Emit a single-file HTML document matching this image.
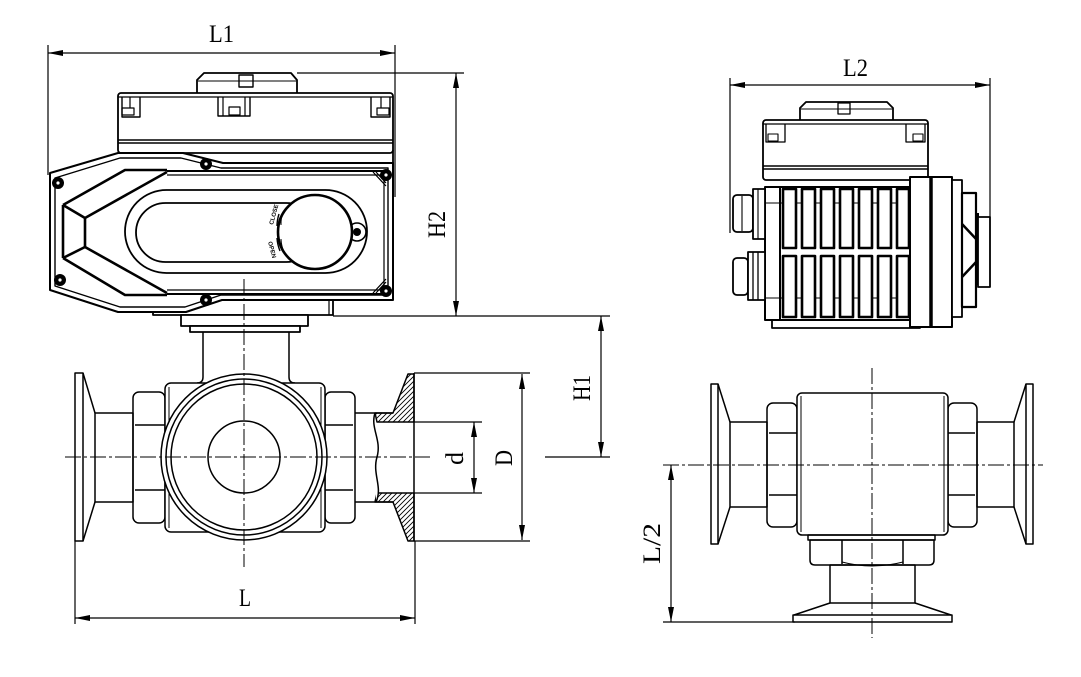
<!DOCTYPE html>
<html><head><meta charset="utf-8">
<style>html,body{margin:0;padding:0;background:#fff}svg{display:block}</style>
</head>
<body>
<svg width="1081" height="677" viewBox="0 0 1081 677" xmlns="http://www.w3.org/2000/svg">
<defs>
<pattern id="h" patternUnits="userSpaceOnUse" width="5" height="5"><path d="M-1,6 L6,-1 M-1,1 L1,-1 M4,6 L6,4" stroke="#000" stroke-width="0.9"/></pattern>
</defs>
<rect width="1081" height="677" fill="#fff"/>

<!-- ============ DIMENSIONS ============ -->
<g fill="none" stroke="#000" stroke-width="1.2">
  <!-- L1 -->
  <line x1="48" y1="53" x2="395" y2="53"/>
  <line x1="48" y1="45" x2="48" y2="175"/>
  <line x1="395" y1="45" x2="395" y2="197"/>
  <!-- H2 -->
  <line x1="456" y1="73" x2="456" y2="316"/>
  <line x1="297" y1="73" x2="464" y2="73"/>
  <line x1="333" y1="316" x2="610" y2="316"/>
  <!-- H1 -->
  <line x1="601" y1="316" x2="601" y2="457"/>
  <line x1="545" y1="457" x2="610" y2="457"/>
  <!-- D -->
  <line x1="522" y1="374" x2="522" y2="540"/>
  <line x1="414" y1="373" x2="530" y2="373"/>
  <line x1="414" y1="541" x2="530" y2="541"/>
  <!-- d -->
  <line x1="474" y1="422" x2="474" y2="493"/>
  <line x1="414" y1="422" x2="482" y2="422"/>
  <line x1="414" y1="493" x2="482" y2="493"/>
  <!-- L -->
  <line x1="75" y1="618" x2="415" y2="618"/>
  <line x1="75" y1="541" x2="75" y2="624"/>
  <line x1="415" y1="541" x2="415" y2="624"/>
  <!-- L2 -->
  <line x1="730" y1="85" x2="990" y2="85"/>
  <line x1="730" y1="78" x2="730" y2="233"/>
  <line x1="990" y1="78" x2="990" y2="217"/>
  <!-- L/2 -->
  <line x1="671" y1="465" x2="671" y2="622"/>
  <line x1="663" y1="622" x2="795" y2="622"/>
</g>
<g fill="#000" stroke="none">
  <polygon points="48,53 63,50 63,56"/><polygon points="395,53 380,50 380,56"/>
  <polygon points="456,73 453,88 459,88"/><polygon points="456,316 453,301 459,301"/>
  <polygon points="601,316 598,331 604,331"/><polygon points="601,457 598,442 604,442"/>
  <polygon points="522,374 519,389 525,389"/><polygon points="522,540 519,525 525,525"/>
  <polygon points="474,422 471,437 477,437"/><polygon points="474,493 471,478 477,478"/>
  <polygon points="75,618 90,615 90,621"/><polygon points="415,618 400,615 400,621"/>
  <polygon points="730,85 745,82 745,88"/><polygon points="990,85 975,82 975,88"/>
  <polygon points="671,465 668,480 674,480"/><polygon points="671,622 668,607 674,607"/>
</g>
<g font-family="'Liberation Serif', serif" font-size="25" fill="#000">
  <text x="209" y="42" textLength="25" lengthAdjust="spacingAndGlyphs">L1</text>
  <text x="239" y="606" textLength="12" lengthAdjust="spacingAndGlyphs">L</text>
  <text x="843" y="76" textLength="25" lengthAdjust="spacingAndGlyphs">L2</text>
  <text transform="translate(445,238) rotate(-90)" textLength="27" lengthAdjust="spacingAndGlyphs">H2</text>
  <text transform="translate(590,401) rotate(-90)" textLength="26" lengthAdjust="spacingAndGlyphs">H1</text>
  <text transform="translate(463,465) rotate(-90)" textLength="13" lengthAdjust="spacingAndGlyphs">d</text>
  <text transform="translate(512,466) rotate(-90)" textLength="16" lengthAdjust="spacingAndGlyphs">D</text>
  <text transform="translate(660,564) rotate(-90)" textLength="41" lengthAdjust="spacingAndGlyphs">L/2</text>
</g>

<!-- ============ LEFT VIEW ACTUATOR ============ -->
<g fill="none" stroke="#000" stroke-width="1.8" stroke-linejoin="round">
  <!-- knob -->
  <path d="M197,93 L197,80 L204,73 L291,73 L297,80 L297,93" fill="#fff"/>
  <line x1="198" y1="81" x2="296" y2="81" stroke-width="1"/>
  <rect x="239" y="75" width="14" height="12" stroke-width="1.4"/>
  <!-- cover -->
  <rect x="118" y="93" width="275" height="60" rx="3" fill="#fff"/>
  <line x1="118" y1="97" x2="393" y2="97" stroke-width="1.2"/>
  <line x1="118" y1="140" x2="393" y2="140" stroke-width="1.4"/>
  <line x1="118" y1="143" x2="393" y2="143" stroke-width="1.4"/>
  <line x1="393" y1="150" x2="393" y2="197"/>
  <!-- clips -->
  <path d="M122,97 L122,117 L140,117 L140,97" stroke-width="1.4"/>
  <line x1="130" y1="97" x2="130" y2="108" stroke-width="1.2"/>
  <rect x="122" y="108" width="12" height="7" stroke-width="1.2"/>
  <path d="M218,97 L218,116 L250,116 L250,97" stroke-width="1.4"/>
  <line x1="223" y1="97" x2="223" y2="116" stroke-width="1.2"/>
  <line x1="245" y1="97" x2="245" y2="116" stroke-width="1.2"/>
  <rect x="229" y="107" width="11" height="8" stroke-width="1.2"/>
  <path d="M371,97 L371,117 L390,117 L390,97" stroke-width="1.4"/>
  <line x1="381" y1="97" x2="381" y2="108" stroke-width="1.2"/>
  <rect x="377" y="108" width="12" height="7" stroke-width="1.2"/>
  <!-- bottom plate -->
  <rect x="153" y="300" width="180" height="15" fill="#fff"/>
  <line x1="329" y1="300" x2="329" y2="315" stroke-width="1.2"/>
  <rect x="181" y="315" width="127" height="11" fill="#fff"/>
  <rect x="190" y="326" width="110" height="6" fill="#fff"/>
  <!-- housing -->
  <path d="M50,173 L118,153 L183,153 L223,163 L393,163 L393,300 L222,300 L186,312 L118,312 L50,290 Z" fill="#fff" stroke-width="2"/>
  <path d="M55,178 L120,158 L181,158 L221,168 L388,168 L388,295 L221,295 L185,307 L120,307 L55,286 Z" stroke-width="1.4"/>
  <!-- panel -->
  <line x1="167" y1="171" x2="386" y2="171" stroke-width="2"/>
  <line x1="167" y1="175" x2="384" y2="175" stroke-width="1.2"/>
  <line x1="167" y1="290" x2="384" y2="290" stroke-width="1.2"/>
  <line x1="167" y1="294" x2="386" y2="294" stroke-width="2"/>
  <line x1="384" y1="175" x2="384" y2="290" stroke-width="1.2"/>
  <path d="M373,172 L386,186 M376,172 L386,183 M373,293 L386,279 M376,293 L386,282" stroke-width="1.2"/>
  <!-- chevron -->
  <g stroke-width="2.6">
    <path d="M63,205 L125,170 L167,170"/>
    <path d="M63,205 L85,218 L167,172"/>
    <path d="M85,218 L85,247"/>
    <path d="M63,205 L63,258"/>
    <path d="M63,258 L85,247"/>
    <path d="M85,247 L167,293"/>
    <path d="M63,258 L125,295 L167,295"/>
  </g>
  <!-- oval -->
  <rect x="125" y="190" width="242" height="83" rx="41.5" stroke-width="1.8"/>
  <rect x="136" y="203" width="180" height="59" rx="29.5" stroke-width="1.8"/>
  <!-- lug -->
  <circle cx="357" cy="232" r="9" fill="#fff" stroke-width="1.6"/>
  <circle cx="357" cy="232" r="4" fill="#000" stroke="none"/>
  <!-- dial -->
  <circle cx="315" cy="232" r="37" fill="#fff" stroke-width="2.6"/>
  <path d="M279,214 A40,40 0 0 0 277,226" stroke-width="1.4"/>
  <path d="M277,238 A40,40 0 0 0 280,251" stroke-width="1.4"/>
  <path d="M283,212 A36,36 0 0 0 281,225" stroke-width="1"/>
  <path d="M281,239 A36,36 0 0 0 284,252" stroke-width="1"/>
</g>
<g font-family="'Liberation Sans', sans-serif" font-size="6" font-weight="bold" fill="#000">
  <text transform="translate(273,225) rotate(-75)">CLOSE</text>
  <text transform="translate(268,242) rotate(75)">OPEN</text>
</g>
<!-- screws -->
<g fill="#000">
  <circle cx="58" cy="183" r="6"/><circle cx="60" cy="280" r="6"/>
  <circle cx="206" cy="164" r="6"/><circle cx="206" cy="300" r="6"/>
  <circle cx="386" cy="175" r="6"/><circle cx="386" cy="291" r="6"/>
</g>
<g fill="#fff">
  <circle cx="58" cy="183" r="1.6"/><circle cx="60" cy="280" r="1.6"/>
  <circle cx="206" cy="164" r="1.6"/><circle cx="206" cy="300" r="1.6"/>
  <circle cx="386" cy="175" r="1.6"/><circle cx="386" cy="291" r="1.6"/>
</g>

<!-- ============ LEFT VIEW VALVE BODY ============ -->
<g fill="none" stroke="#000" stroke-width="1.5" stroke-linejoin="round">
  <!-- neck -->
  <path d="M203,332 L203,377 Q203,383 197,383"/>
  <path d="M289,332 L289,377 Q289,383 295,383"/>
  <!-- left flange -->
  <rect x="75" y="373" width="8" height="168"/>
  <line x1="83" y1="373" x2="95" y2="413"/>
  <line x1="83" y1="541" x2="95" y2="502"/>
  <rect x="95" y="413" width="38" height="89"/>
  <!-- hex nuts -->
  <rect x="133" y="392" width="32" height="131" rx="6"/>
  <line x1="135" y1="425" x2="165" y2="425"/>
  <line x1="135" y1="490" x2="165" y2="490"/>
  <rect x="325" y="392" width="30" height="131" rx="6"/>
  <line x1="325" y1="425" x2="353" y2="425"/>
  <line x1="325" y1="490" x2="353" y2="490"/>
  <!-- body -->
  <rect x="165" y="383" width="160" height="149" rx="6" fill="#fff"/>
  <line x1="169" y1="387" x2="169" y2="528" stroke-width="1"/>
  <line x1="321" y1="387" x2="321" y2="528" stroke-width="1"/>
  <circle cx="244" cy="457" r="83" fill="#fff"/>
  <circle cx="244" cy="457" r="78"/>
  <circle cx="244" cy="457" r="73"/>
  <circle cx="244" cy="457" r="36"/>
  <!-- right pipe & section -->
  <line x1="355" y1="413" x2="393" y2="413"/>
  <line x1="355" y1="502" x2="393" y2="502"/>
  <path d="M375,413 L393,413 L408,374 L414,374 L414,422 L377,422 Z" fill="url(#h)"/>
  <path d="M377,493 L414,493 L414,541 L408,541 L393,502 L375,502 Z" fill="url(#h)"/>
  <path d="M375,413 C370,428 382,440 377,457 C372,474 383,487 376,502" fill="#fff"/>
  <line x1="414" y1="373" x2="414" y2="541"/>
</g>

<!-- ============ RIGHT TOP VIEW ============ -->
<g fill="none" stroke="#000" stroke-width="1.8" stroke-linejoin="round">
  <!-- knob -->
  <path d="M800,120 L800,108 L806,102 L887,102 L893,108 L893,120" fill="#fff"/>
  <line x1="801" y1="109" x2="892" y2="109" stroke-width="1"/>
  <rect x="838" y="103" width="12" height="11" stroke-width="1.3"/>
  <!-- cover -->
  <rect x="763" y="120" width="165" height="60" rx="3" fill="#fff"/>
  <line x1="763" y1="124" x2="928" y2="124" stroke-width="1.2"/>
  <line x1="763" y1="166" x2="928" y2="166" stroke-width="1.4"/>
  <line x1="763" y1="169" x2="928" y2="169" stroke-width="1.4"/>
  <path d="M766,124 L766,142 L785,142 L785,124" stroke-width="1.3"/>
  <rect x="768" y="134" width="10" height="7" stroke-width="1.1"/>
  <path d="M906,124 L906,142 L925,142 L925,124" stroke-width="1.3"/>
  <rect x="913" y="134" width="10" height="7" stroke-width="1.1"/>
  <!-- fin block -->
  <rect x="772" y="318" width="148" height="10" fill="#fff"/>
  <rect x="765" y="187" width="145" height="133" fill="#fff" stroke-width="2"/>
  <line x1="780" y1="187" x2="780" y2="320" stroke-width="2"/>
  <line x1="765" y1="203" x2="910" y2="203" stroke-width="1.1"/>
  <line x1="765" y1="298" x2="910" y2="298" stroke-width="1.1"/>
  <g stroke-width="2.6" fill="#fff">
    <rect x="783" y="189" width="13" height="59"/><rect x="802" y="189" width="13" height="59"/>
    <rect x="821" y="189" width="13" height="59"/><rect x="840" y="189" width="13" height="59"/>
    <rect x="859" y="189" width="13" height="59"/><rect x="878" y="189" width="13" height="59"/>
    <rect x="897" y="189" width="12" height="59"/>
    <rect x="783" y="256" width="13" height="61"/><rect x="802" y="256" width="13" height="61"/>
    <rect x="821" y="256" width="13" height="61"/><rect x="840" y="256" width="13" height="61"/>
    <rect x="859" y="256" width="13" height="61"/><rect x="878" y="256" width="13" height="61"/>
    <rect x="897" y="256" width="12" height="61"/>
  </g>
  <!-- end blocks -->
  <rect x="910" y="177" width="42" height="150" fill="#fff" stroke-width="2"/>
  <line x1="931" y1="177" x2="931" y2="327" stroke-width="3.5"/>
  <rect x="952" y="180" width="10" height="137" fill="#fff"/>
  <rect x="962" y="193" width="14" height="114" fill="#fff" stroke-width="2.2"/>
  <line x1="962" y1="224" x2="977" y2="240" stroke-width="2.5"/>
  <line x1="962" y1="277" x2="977" y2="261" stroke-width="2.5"/>
  <line x1="977" y1="213" x2="977" y2="285" stroke-width="4"/>
  <rect x="978" y="217" width="12" height="70" fill="#fff"/>
  <!-- glands -->
  <rect x="733" y="195" width="20" height="37" rx="4" fill="#fff"/>
  <line x1="742" y1="196" x2="742" y2="231" stroke-width="1.1"/>
  <rect x="753" y="189" width="12" height="50" fill="#fff"/>
  <line x1="758" y1="189" x2="758" y2="239" stroke-width="1.1"/>
  <rect x="733" y="258" width="15" height="37" rx="4" fill="#fff"/>
  <rect x="748" y="252" width="17" height="48" fill="#fff"/>
  <line x1="753" y1="252" x2="753" y2="300" stroke-width="1.3"/>
  <line x1="758" y1="252" x2="758" y2="300" stroke-width="1.3"/>
</g>

<!-- ============ RIGHT BOTTOM VIEW ============ -->
<g fill="none" stroke="#000" stroke-width="1.5" stroke-linejoin="round">
  <rect x="711" y="384" width="7" height="160"/>
  <line x1="718" y1="384" x2="730" y2="422"/>
  <line x1="718" y1="544" x2="730" y2="507"/>
  <rect x="730" y="422" width="37" height="85"/>
  <rect x="767" y="403" width="30" height="124" rx="6"/>
  <line x1="769" y1="433" x2="797" y2="433"/>
  <line x1="769" y1="495" x2="797" y2="495"/>
  <rect x="1026" y="384" width="7" height="160"/>
  <line x1="1026" y1="384" x2="1014" y2="422"/>
  <line x1="1026" y1="544" x2="1014" y2="507"/>
  <rect x="977" y="422" width="37" height="85"/>
  <rect x="948" y="403" width="29" height="124" rx="6"/>
  <line x1="948" y1="433" x2="975" y2="433"/>
  <line x1="948" y1="495" x2="975" y2="495"/>
  <rect x="797" y="393" width="151" height="142" rx="5" fill="#fff"/>
  <line x1="801" y1="396" x2="801" y2="532" stroke-width="1"/>
  <line x1="944" y1="396" x2="944" y2="532" stroke-width="1"/>
  <rect x="808" y="535" width="127" height="5"/>
  <path d="M810,540 L934,540 L934,560 Q934,565 929,565 L815,565 Q810,565 810,560 Z"/>
  <line x1="842" y1="540" x2="842" y2="564"/>
  <line x1="903" y1="540" x2="903" y2="564"/>
  <path d="M842,562 Q872,570 903,562" stroke-width="1"/>
  <rect x="830" y="565" width="85" height="38"/>
  <line x1="830" y1="603" x2="794" y2="615"/>
  <line x1="915" y1="603" x2="951" y2="615"/>
  <rect x="793" y="615" width="159" height="7"/>
</g>

<!-- ============ CENTER LINES ============ -->
<g fill="none" stroke="#000" stroke-width="1" stroke-dasharray="16 3 3 3">
  <line x1="65" y1="457" x2="430" y2="457"/>
  <line x1="244" y1="279" x2="244" y2="567"/>
  <line x1="663" y1="465" x2="1043" y2="465"/>
  <line x1="872" y1="368" x2="872" y2="638"/>
</g>
</svg>
</body></html>
